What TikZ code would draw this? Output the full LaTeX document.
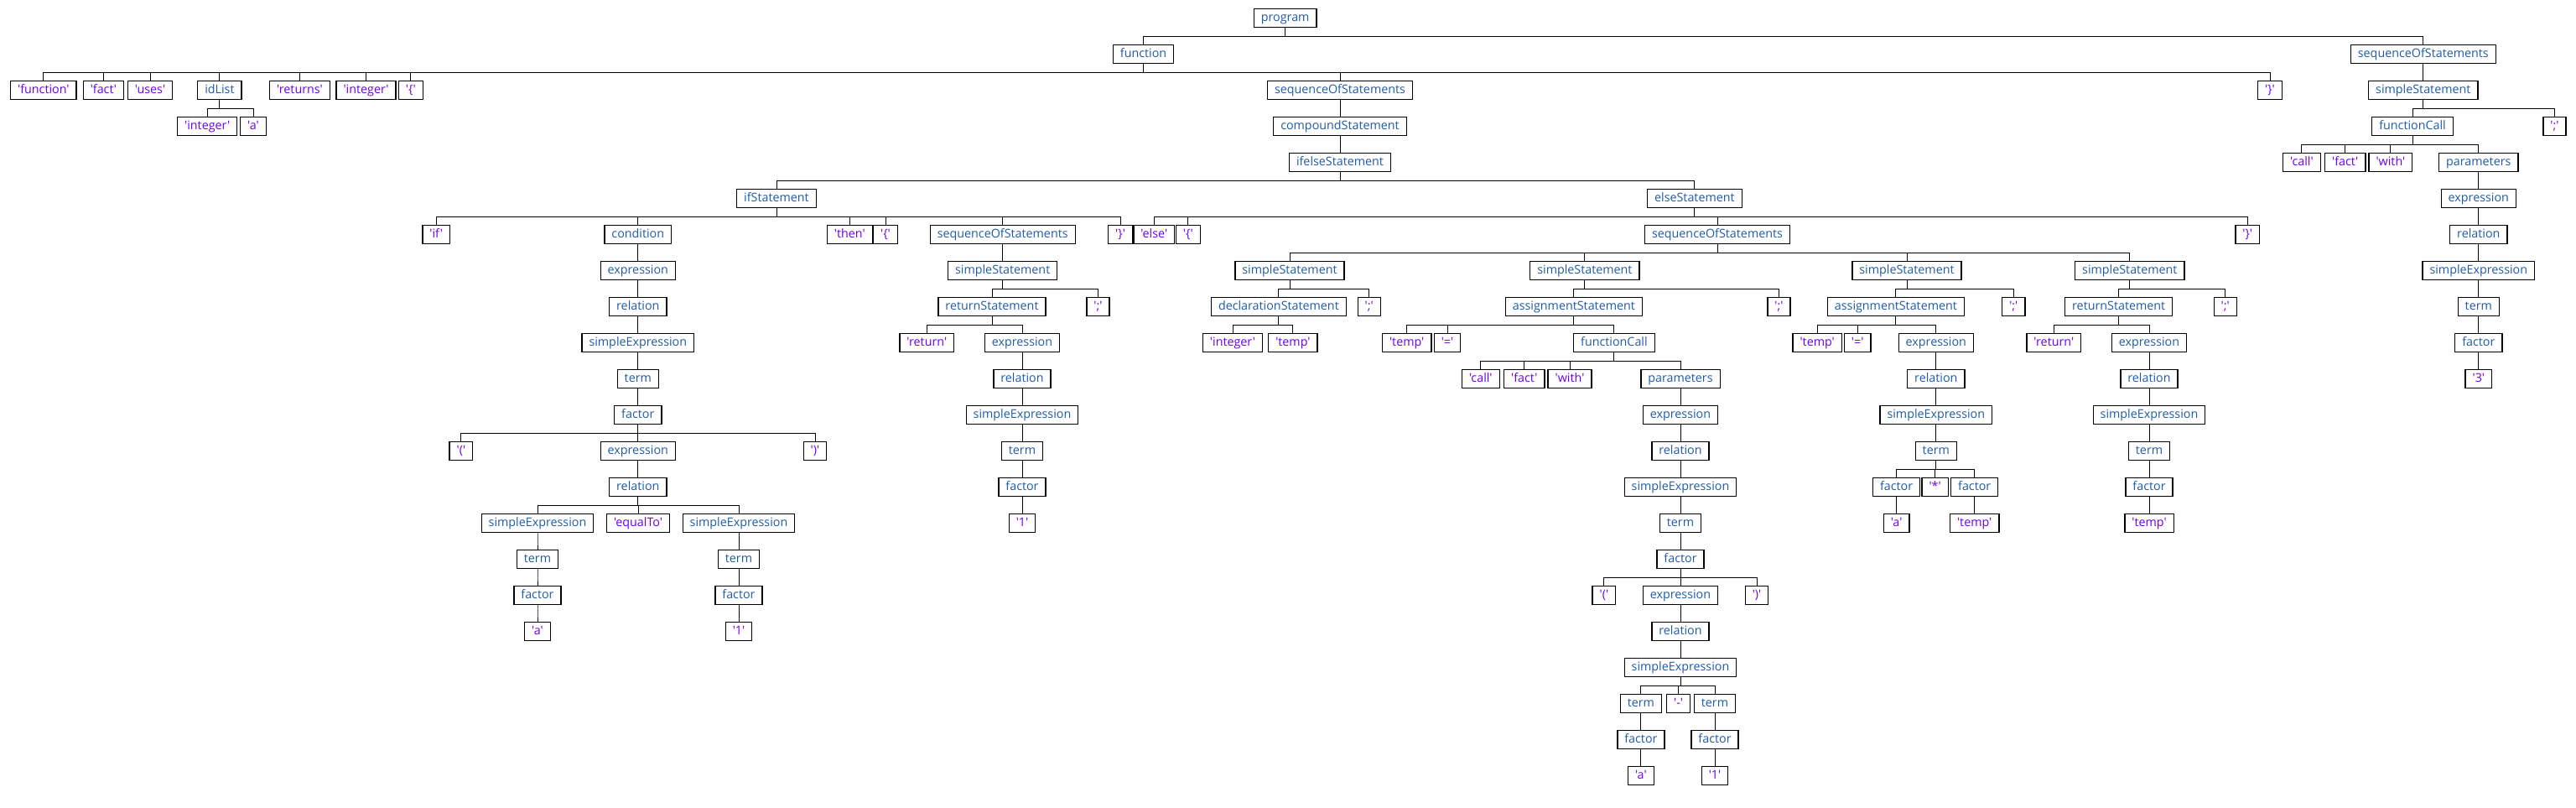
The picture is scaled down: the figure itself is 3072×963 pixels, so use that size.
\documentclass[tikz,border=0pt]{standalone}
\usepackage{fontspec}
\newfontfamily\treefont{Open Sans}
\newcommand\q[1]{\char39 #1\char39}
\definecolor{ntcol}{HTML}{1F5AA6}
\definecolor{tmcol}{HTML}{6A00F0}
\tikzset{
  box/.style={draw=black, line width=1.3pt, minimum height=22pt, inner xsep=8.5pt, inner ysep=0pt,
    text height=11pt, text depth=3pt, font=\treefont\fontsize{14.3}{16}\selectfont},
  nt/.style={box, text=ntcol},
  tm/.style={box, text=tmcol},
  edge/.style={draw=black, line width=1pt}
}
\begin{document}
\begin{tikzpicture}[x=1pt, y=-43pt]
\useasboundingbox (0pt,0pt) rectangle (3072pt,-963pt);
\begin{scope}[yshift=-21.3pt]
% L0
\node[nt] (prog) at (1532.7,0) {program};
% L1
\node[nt] (fn) at (1363.6,1) {function};
\node[nt] (sR) at (2889.8,1) {sequenceOfStatements};
% L2
\node[tm] (kf) at (51.9,2) {\q{function}};
\node[tm] (kfact) at (123.4,2) {\q{fact}};
\node[tm] (kuses) at (179,2) {\q{uses}};
\node[nt] (idl) at (261.9,2) {idList};
\node[tm] (kret) at (357.5,2) {\q{returns}};
\node[tm] (kint) at (436.6,2) {\q{integer}};
\node[tm] (lb) at (489.8,2) {\q{\{}};
\node[nt] (seqM) at (1598,2) {sequenceOfStatements};
\node[tm] (rb) at (2707,2) {\q{\}}};
\node[nt] (ssR) at (2889.8,2) {simpleStatement};
% L3
\node[tm] (idi) at (247.2,3) {\q{integer}};
\node[tm] (ida) at (302,3) {\q{a}};
\node[nt] (comp) at (1598,3) {compoundStatement};
\node[nt] (fcR) at (2877,3) {functionCall};
\node[tm] (scR) at (3046.5,3) {\q{;}};
% L4
\node[nt] (ife) at (1598,4) {ifelseStatement};
\node[tm] (callR) at (2744.9,4) {\q{call}};
\node[tm] (factR) at (2796.7,4) {\q{fact}};
\node[tm] (withR) at (2850.9,4) {\q{with}};
\node[nt] (parR) at (2955.8,4) {parameters};
% L5
\node[nt] (ifs) at (926,5) {ifStatement};
\node[nt] (els) at (2020.9,5) {elseStatement};
\node[nt] (exR) at (2955.8,5) {expression};
% L6
\node[tm] (kif) at (520.2,6) {\q{if}};
\node[nt] (cond) at (760.8,6) {condition};
\node[tm] (kthen) at (1013.3,6) {\q{then}};
\node[tm] (lb2) at (1056,6) {\q{\{}};
\node[nt] (seqI) at (1195.7,6) {sequenceOfStatements};
\node[tm] (rb2) at (1336.1,6) {\q{\}}};
\node[tm] (kelse) at (1376.3,6) {\q{else}};
\node[tm] (lb3) at (1416.8,6) {\q{\{}};
\node[nt] (seqE) at (2048,6) {sequenceOfStatements};
\node[tm] (rb3) at (2680.2,6) {\q{\}}};
\node[nt] (relR) at (2955.8,6) {relation};
% L7
\node[nt] (cex) at (760.8,7) {expression};
\node[nt] (ssI) at (1195.7,7) {simpleStatement};
\node[nt] (ss1) at (1538,7) {simpleStatement};
\node[nt] (ss2) at (1889.9,7) {simpleStatement};
\node[nt] (ss3) at (2274,7) {simpleStatement};
\node[nt] (ss4) at (2539.8,7) {simpleStatement};
\node[nt] (seR) at (2955.8,7) {simpleExpression};
% L8
\node[nt] (crel) at (760.8,8) {relation};
\node[nt] (retI) at (1183,8) {returnStatement};
\node[tm] (scI) at (1309.4,8) {\q{;}};
\node[nt] (decl) at (1524.9,8) {declarationStatement};
\node[tm] (sc1) at (1632.7,8) {\q{;}};
\node[nt] (asg2) at (1876.9,8) {assignmentStatement};
\node[tm] (sc2) at (2121.5,8) {\q{;}};
\node[nt] (asg3) at (2260.9,8) {assignmentStatement};
\node[tm] (sc3) at (2401.3,8) {\q{;}};
\node[nt] (ret4) at (2526.7,8) {returnStatement};
\node[tm] (sc4) at (2653.7,8) {\q{;}};
\node[nt] (tR) at (2955.8,8) {term};
% L9
\node[nt] (cse) at (760.8,9) {simpleExpression};
\node[tm] (kretI) at (1105.3,9) {\q{return}};
\node[nt] (exI) at (1219,9) {expression};
\node[tm] (dint) at (1470,9) {\q{integer}};
\node[tm] (dtemp) at (1541.9,9) {\q{temp}};
\node[tm] (atemp2) at (1677.7,9) {\q{temp}};
\node[tm] (aeq2) at (1726,9) {\q{=}};
\node[nt] (fc2) at (1924.9,9) {functionCall};
\node[tm] (atemp3) at (2167.2,9) {\q{temp}};
\node[tm] (aeq3) at (2215.2,9) {\q{=}};
\node[nt] (ex3) at (2308.8,9) {expression};
\node[tm] (kret4) at (2449.3,9) {\q{return}};
\node[nt] (ex4) at (2563,9) {expression};
\node[nt] (fR) at (2955.8,9) {factor};
% L10
\node[nt] (cterm) at (760.8,10) {term};
\node[nt] (relI) at (1219,10) {relation};
\node[tm] (call2) at (1765.9,10) {\q{call}};
\node[tm] (fact2) at (1817.8,10) {\q{fact}};
\node[tm] (with2) at (1872,10) {\q{with}};
\node[nt] (par2) at (2004,10) {parameters};
\node[nt] (rel3) at (2308.8,10) {relation};
\node[nt] (rel4) at (2563,10) {relation};
\node[tm] (k3) at (2955.8,10) {\q{3}};
% L11
\node[nt] (cfac) at (760.8,11) {factor};
\node[nt] (seI) at (1219,11) {simpleExpression};
\node[nt] (ex2) at (2004,11) {expression};
\node[nt] (se3) at (2308.8,11) {simpleExpression};
\node[nt] (se4) at (2563,11) {simpleExpression};
% L12
\node[tm] (lp) at (549.9,12) {\q{(}};
\node[nt] (cex2) at (760.8,12) {expression};
\node[tm] (rp) at (972,12) {\q{)}};
\node[nt] (tI) at (1219,12) {term};
\node[nt] (rel2) at (2004,12) {relation};
\node[nt] (t3) at (2308.8,12) {term};
\node[nt] (t4) at (2563,12) {term};
% L13
\node[nt] (crel2) at (760.8,13) {relation};
\node[nt] (fI) at (1219,13) {factor};
\node[nt] (se2) at (2004,13) {simpleExpression};
\node[nt] (f3a) at (2261.6,13) {factor};
\node[tm] (star) at (2307.6,13) {\q{*}};
\node[nt] (f3b) at (2354.7,13) {factor};
\node[nt] (f4) at (2563,13) {factor};
% L14
\node[nt] (cseA) at (641,14) {simpleExpression};
\node[tm] (eqto) at (761.1,14) {\q{equalTo}};
\node[nt] (cseB) at (881,14) {simpleExpression};
\node[tm] (oneI) at (1219,14) {\q{1}};
\node[nt] (t2) at (2004,14) {term};
\node[tm] (a3) at (2261.6,14) {\q{a}};
\node[tm] (temp3) at (2354.7,14) {\q{temp}};
\node[tm] (temp4) at (2563,14) {\q{temp}};
% L15
\node[nt] (ctA) at (641,15) {term};
\node[nt] (ctB) at (881,15) {term};
\node[nt] (f2) at (2004,15) {factor};
% L16
\node[nt] (cfA) at (641,16) {factor};
\node[nt] (cfB) at (881,16) {factor};
\node[tm] (lp2) at (1912.9,16) {\q{(}};
\node[nt] (ex2b) at (2004,16) {expression};
\node[tm] (rp2) at (2095,16) {\q{)}};
% L17
\node[tm] (caA) at (641,17) {\q{a}};
\node[tm] (c1B) at (881,17) {\q{1}};
\node[nt] (rel2b) at (2004,17) {relation};
% L18
\node[nt] (se2b) at (2004,18) {simpleExpression};
% L19
\node[nt] (t2a) at (1956.9,19) {term};
\node[tm] (minus) at (2001.6,19) {\q{-}};
\node[nt] (t2b) at (2045,19) {term};
% L20
\node[nt] (f2a) at (1956.9,20) {factor};
\node[nt] (f2b) at (2045,20) {factor};
% L21
\node[tm] (a2) at (1956.9,21) {\q{a}};
\node[tm] (one2) at (2045,21) {\q{1}};
\end{scope}
\foreach \p/\c in {prog/fn, prog/sR,
  fn/kf, fn/kfact, fn/kuses, fn/idl, fn/kret, fn/kint, fn/lb, fn/seqM, fn/rb,
  idl/idi, idl/ida,
  seqM/comp, comp/ife, ife/ifs, ife/els,
  ifs/kif, ifs/cond, ifs/kthen, ifs/lb2, ifs/seqI, ifs/rb2,
  cond/cex, cex/crel, crel/cse, cse/cterm, cterm/cfac,
  cfac/lp, cfac/cex2, cfac/rp, cex2/crel2,
  crel2/cseA, crel2/eqto, crel2/cseB,
  cseA/ctA, ctA/cfA, cfA/caA, cseB/ctB, ctB/cfB, cfB/c1B,
  seqI/ssI, ssI/retI, ssI/scI, retI/kretI, retI/exI,
  exI/relI, relI/seI, seI/tI, tI/fI, fI/oneI,
  els/kelse, els/lb3, els/seqE, els/rb3,
  seqE/ss1, seqE/ss2, seqE/ss3, seqE/ss4,
  ss1/decl, ss1/sc1, decl/dint, decl/dtemp,
  ss2/asg2, ss2/sc2, asg2/atemp2, asg2/aeq2, asg2/fc2,
  fc2/call2, fc2/fact2, fc2/with2, fc2/par2,
  par2/ex2, ex2/rel2, rel2/se2, se2/t2, t2/f2,
  f2/lp2, f2/ex2b, f2/rp2, ex2b/rel2b, rel2b/se2b,
  se2b/t2a, se2b/minus, se2b/t2b, t2a/f2a, f2a/a2, t2b/f2b, f2b/one2,
  ss3/asg3, ss3/sc3, asg3/atemp3, asg3/aeq3, asg3/ex3,
  ex3/rel3, rel3/se3, se3/t3, t3/f3a, t3/star, t3/f3b, f3a/a3, f3b/temp3,
  ss4/ret4, ss4/sc4, ret4/kret4, ret4/ex4,
  ex4/rel4, rel4/se4, se4/t4, t4/f4, f4/temp4,
  sR/ssR, ssR/fcR, ssR/scR, fcR/callR, fcR/factR, fcR/withR, fcR/parR,
  parR/exR, exR/relR, relR/seR, seR/tR, tR/fR, fR/k3}
  \draw[edge] (\p.south) -- ++(0pt,-10.5pt) -| (\c.north);
\end{tikzpicture}
\end{document}
